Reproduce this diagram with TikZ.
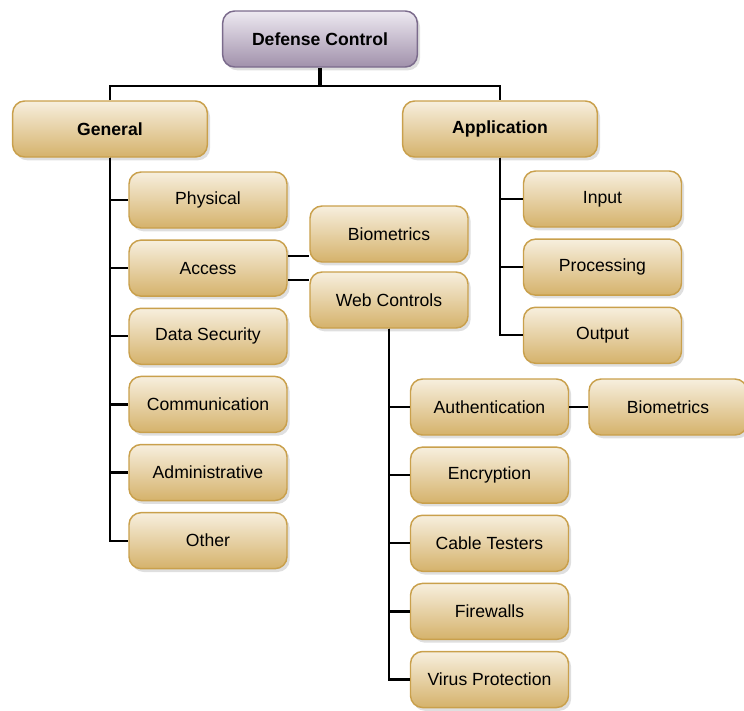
\documentclass[tikz,border=0pt]{standalone}
\usepackage{fontspec}
\setmainfont{Liberation Sans}
\usetikzlibrary{positioning,shadows}
\definecolor{goldtop}{HTML}{F7EFDE}
\definecolor{goldbot}{HTML}{D5B26B}
\definecolor{goldline}{HTML}{C9A04C}
\definecolor{lilactop}{HTML}{EDE9F1}
\definecolor{lilacbot}{HTML}{A191AB}
\definecolor{lilacline}{HTML}{7B6B8C}
\begin{document}
\begin{tikzpicture}[x=0.75pt,y=-0.75pt,node distance=8pt,
  box/.style={draw=goldline,line width=1.1pt,rounded corners=9pt,top color=goldtop,bottom color=goldbot,
    minimum width=118.5pt,minimum height=42pt,font=\fontsize{13.2}{15}\selectfont,
    drop shadow={shadow xshift=2pt,shadow yshift=-2.5pt,opacity=.25}},
  bigbox/.style={box,minimum width=146pt,font=\fontsize{13.2}{15}\selectfont\bfseries},
  topbox/.style={bigbox,draw=lilacline,top color=lilactop,bottom color=lilacbot},
  link/.style={line width=1.7pt}]
\useasboundingbox (0,0) rectangle (744,711);
\node[topbox] (dc) at (320,39) {Defense Control};
\node[bigbox] (gen) at (110,129) {General};
\node[bigbox] (app) at (500,129) {Application};
\coordinate (bus) at (320,86);
% general
\node[box] (phys) at (208,200) {Physical};
\node[box,below=of phys] (acc) {Access};
\node[box,below=of acc] (data) {Data Security};
\node[box,below=of data] (comm) {Communication};
\node[box,below=of comm] (adm) {Administrative};
\node[box,below=of adm] (oth) {Other};
% access
\node[box] (bio) at (389,234) {Biometrics};
\node[box] (web) at (389,300) {Web Controls};
% web controls
\node[box] (auth) at (489.5,407) {Authentication};
\node[box,below=of auth] (enc) {Encryption};
\node[box,below=of enc] (cab) {Cable Testers};
\node[box,below=of cab] (fire) {Firewalls};
\node[box,below=of fire] (virus) {Virus Protection};
\node[box] (authbio) at (668,407) {Biometrics};
% application
\node[box] (inp) at (602.5,199) {Input};
\node[box,below=of inp] (proc) {Processing};
\node[box,below=of proc] (outp) {Output};
\draw[link,line width=3pt] (dc) -- (bus);
\draw[link] (gen.north) |- (bus) -| (app.north);
\foreach \n in {phys,acc,data,comm,adm,oth} \draw[link] (gen.south) |- (\n.west);
\foreach \n in {inp,proc,outp} \draw[link] (app.south) |- (\n.west);
\foreach \n in {auth,enc,cab,fire,virus} \draw[link] (web.south) |- (\n.west);
\draw[link] ([yshift=9pt]acc.east) -- ([yshift=9pt]acc.east -| bio.west);
\draw[link] ([yshift=-9pt]acc.east) -- ([yshift=-9pt]acc.east -| web.west);
\draw[link] (auth) -- (authbio);
\end{tikzpicture}
\end{document}
